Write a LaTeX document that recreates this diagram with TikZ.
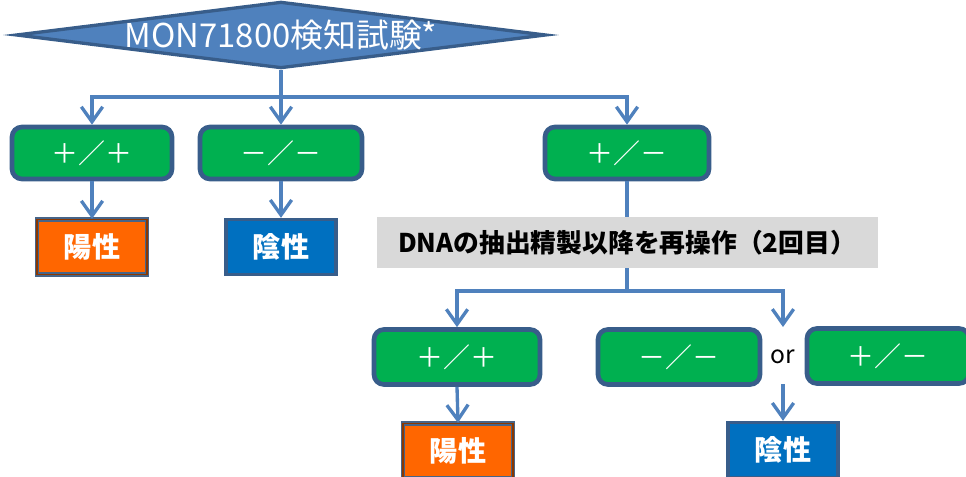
\documentclass[tikz,border=0pt]{standalone}
\usepackage{fontspec}
\setmainfont{Noto Sans CJK JP}
\usepackage{tikz}
\usetikzlibrary{arrows.meta,shapes.geometric}
\definecolor{linkblue}{HTML}{4F81BD}
\definecolor{edgeblue}{HTML}{385D8A}
\definecolor{resgreen}{HTML}{00B050}
\definecolor{posorange}{HTML}{FF6600}
\definecolor{negblue}{HTML}{0070C0}
\definecolor{redogray}{HTML}{D9D9D9}

\begin{document}
\begin{tikzpicture}[x=0.3mm,y={(0mm,-0.3mm)}]
                \tikzstyle{every node}+=[inner sep=0pt]
                \tikzstyle{link}=[linkblue, line width=1mm]
                \tikzstyle{tip}=[-{Straight Barb[length=4.5mm,width=6.4mm]}]
                \tikzstyle{result}=[draw=edgeblue, fill=resgreen, line width=1.4mm, rounded corners=3mm,
                  minimum height=15.6mm, text=white, font=\fontsize{23}{26}\selectfont]
                \tikzstyle{positive}=[draw=edgeblue!80!gray, double=posorange!55!black, double distance=0.45mm, line width=0.45mm,
                  fill=posorange, minimum width=33mm, minimum height=16.5mm, text=white, font=\fontsize{24}{27}\selectfont\bfseries]
                \tikzstyle{negative}=[draw=edgeblue, fill=negblue, line width=1mm,
                  minimum width=33mm, minimum height=16.5mm, text=white, font=\fontsize{24}{27}\selectfont\bfseries]
                \useasboundingbox (0,0) rectangle (966,477);
                % test
                \node (test) [diamond, aspect=8, inner xsep=-34pt, draw=edgeblue, fill=linkblue, line width=1mm,
                  minimum width=159mm, minimum height=20mm, text=white, font=\fontsize{28}{31}\selectfont]
                  at (281,35) {MON71800検知試験*};
                \coordinate (split1) at (281,97);
                % first results
                \node (pp1) [result, minimum width=48mm] at (92,153) {＋／＋};
                \node (mm1) [result, minimum width=48.6mm] at (281,153) {－／－};
                \node (pm1) [result, minimum width=49.2mm] at (627,153) {＋／－};
                \node (pos1) [positive] at (92,247) {陽性};
                \node (neg1) [negative] at (281,247) {陰性};
                % second run
                \node (redo) [fill=redogray, minimum width=150.3mm, minimum height=15.3mm,
                  font=\fontsize{22}{25}\selectfont\bfseries] at (627,242.5) {DNAの抽出精製以降を再操作（2回目）};
                \coordinate (split2) at (627,291);
                \node (pp2) [result, minimum width=49.8mm, minimum height=16.5mm] at (457,357) {＋／＋};
                \node (mm2) [result, minimum width=48.6mm, minimum height=16.5mm] at (679,357) {－／－};
                \node (pm2) [result, minimum width=48.6mm, minimum height=16.5mm] at (888,356) {＋／－};
                \node (orword) [font=\fontsize{21}{24}\selectfont] at (783,357) {or};
                \coordinate (orin) at (783,327);
                \coordinate (orout) at (783,384);
                \node (pos2) [positive] at (458,451) {陽性};
                \node (neg2) [negative] at (783,450) {陰性};
                % links
                \draw [link] (test.south) -- (split1);
                \draw [link, tip] (split1) -| (pp1.north);
                \draw [link, tip] (split1) -- (mm1.north);
                \draw [link, tip] (split1) -| (pm1.north);
                \draw [link, tip] (pp1.south) -- (pos1.north);
                \draw [link, tip] (mm1.south) -- (neg1.north);
                \draw [link] (pm1.south) -- (redo.north);
                \draw [link] (redo.south) -- (split2);
                \draw [link, tip] (split2) -| (pp2.north);
                \draw [link, tip] (split2) -| (orin);
                \draw [link, tip] (pp2.south) -- (pos2.north);
                \draw [link, tip] (orout) -- (neg2.north);
            \end{tikzpicture}
\end{document}
